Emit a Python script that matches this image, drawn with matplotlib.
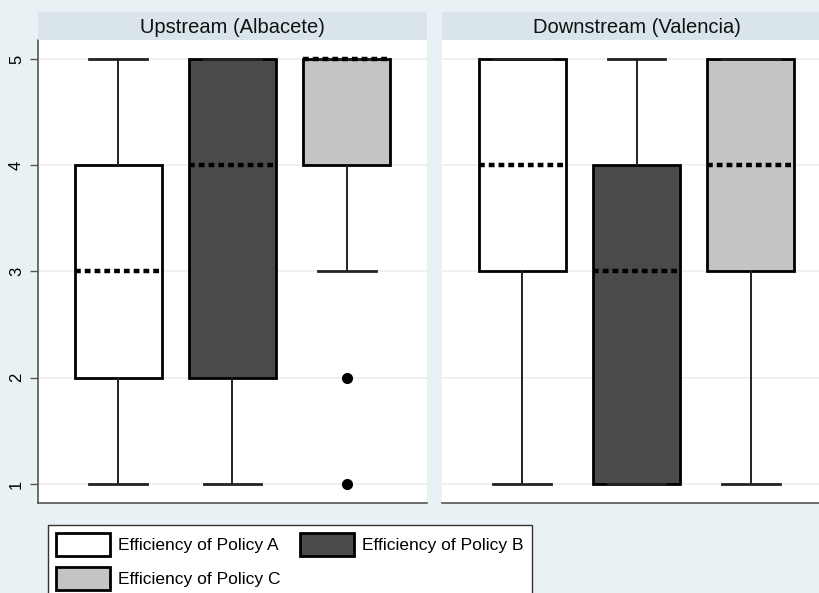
import matplotlib
matplotlib.use("Agg")
import matplotlib.pyplot as plt
from matplotlib.patches import Patch

plt.rcParams['font.family'] = ['Liberation Sans', 'DejaVu Sans']

# five-number summaries
panels = ["Upstream (Albacete)", "Downstream (Valencia)"]
policies = ["Efficiency of Policy A", "Efficiency of Policy B", "Efficiency of Policy C"]
colors = ["#ffffff", "#4a4a4a", "#c4c4c4"]

up_whislo = [1, 1, 3]
up_q1 = [2, 2, 4]
up_med = [3, 4, 5]
up_q3 = [4, 5, 5]
up_whishi = [5, 5, 5]
up_fliers = [[], [], [2, 1]]

down_whislo = [1, 1, 1]
down_q1 = [3, 1, 3]
down_med = [4, 3, 4]
down_q3 = [5, 4, 5]
down_whishi = [5, 5, 5]
down_fliers = [[], [], []]

yticks = [1, 2, 3, 4, 5]

bg = "#e9f1f4"
strip = "#d9e5eb"

fig = plt.figure(figsize=(8.19, 5.93), dpi=100, facecolor=bg)
W, H = 819, 593


def px_axes(x0, y0, x1, y1):
    return fig.add_axes([x0 / W, 1 - y1 / H, (x1 - x0) / W, (y1 - y0) / H])


def draw_panel(ax, wlo, q1, med, q3, whi, fl, first):
    stats = []
    for i in range(3):
        stats.append(dict(whislo=wlo[i], q1=q1[i], med=med[i], q3=q3[i],
                          whishi=whi[i], fliers=fl[i]))
    bp = ax.bxp(stats, positions=[1, 2, 3], widths=0.76, patch_artist=True,
                showfliers=True,
                boxprops=dict(linewidth=2.0, edgecolor="black"),
                medianprops=dict(color="black", linewidth=3.2,
                                 linestyle=(0, (1.3, 0.9))),
                whiskerprops=dict(color="#222222", linewidth=1.4),
                capprops=dict(color="#222222", linewidth=2.0),
                flierprops=dict(marker="o", markerfacecolor="black",
                                markeredgecolor="black", markersize=7))
    for patch, c in zip(bp["boxes"], colors):
        patch.set_facecolor(c)
    for cap in bp["caps"]:
        xd = cap.get_xdata()
        mid = (xd[0] + xd[1]) / 2
        cap.set_xdata([mid - 0.25, mid + 0.25])
    ax.set_xlim(0.3, 3.7)
    ax.set_ylim(0.82, 5.18)
    ax.set_yticks(yticks)
    ax.grid(axis="y", color="#eeeeee", linewidth=1.2)
    ax.set_axisbelow(True)
    ax.set_facecolor("white")
    ax.set_xticks([])
    for s in ["top", "right"]:
        ax.spines[s].set_visible(False)
    ax.spines["bottom"].set_color("#555555")
    ax.spines["bottom"].set_linewidth(1.2)
    if first:
        ax.spines["left"].set_color("#555555")
        ax.spines["left"].set_linewidth(1.2)
        ax.tick_params(axis="y", length=6, width=1, color="#555555",
                       labelsize=12, pad=4)
        for lab in ax.get_yticklabels():
            lab.set_rotation(90)
            lab.set_va("center")
    else:
        ax.spines["left"].set_visible(False)
        ax.tick_params(axis="y", left=False, labelleft=False)


ax1 = px_axes(38, 40, 427, 503)
ax2 = px_axes(442, 40, 831, 503)
draw_panel(ax1, up_whislo, up_q1, up_med, up_q3, up_whishi, up_fliers, True)
draw_panel(ax2, down_whislo, down_q1, down_med, down_q3, down_whishi, down_fliers, False)

# title strips
for (x0, x1), title in zip([(38, 427), (442, 831)], panels):
    sa = px_axes(x0, 12, x1, 40)
    sa.set_facecolor(strip)
    sa.set_xticks([])
    sa.set_yticks([])
    for s in sa.spines.values():
        s.set_visible(False)
    sa.text(0.5, 0.45, title, ha="center", va="center", fontsize=14.5,
            color="#111111", transform=sa.transAxes)

# legend is filled column by column, so reorder to get A B / C
order = [0, 2, 1]
handles = [Patch(facecolor=colors[i], edgecolor="black", linewidth=2.0) for i in order]
labels = [policies[i] for i in order]
fs = 12.5
fpx = fs * 100 / 72
leg = fig.legend(handles, labels, ncol=2, loc="upper left",
                 bbox_to_anchor=(48 / W, 1 - 525 / H), frameon=True,
                 fancybox=False, edgecolor="#333333", framealpha=1,
                 fontsize=fs, handlelength=54 / fpx, handleheight=1.7,
                 handletextpad=8 / fpx, columnspacing=20 / fpx,
                 borderpad=0.45, labelspacing=0.6, borderaxespad=0)
leg.get_frame().set_linewidth(1.0)

fig.savefig("out.png", dpi=100, facecolor=bg)
